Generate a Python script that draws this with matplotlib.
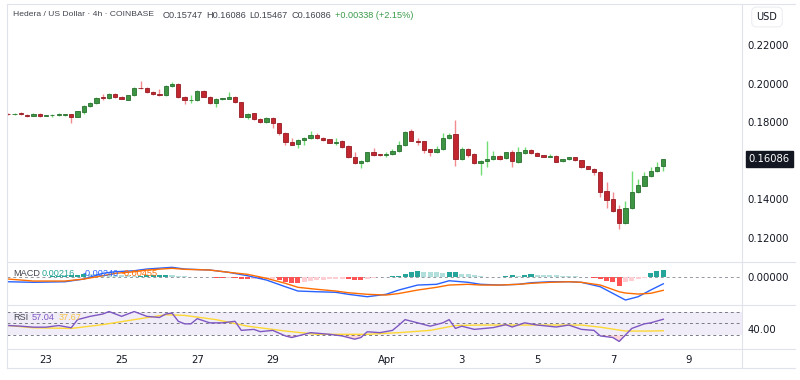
import numpy as np
import pandas as pd
import matplotlib
matplotlib.use("Agg")
from matplotlib import pyplot as plt
from matplotlib.lines import Line2D

# HBAR/USD 4h candles, 2025-03-22 00:00 onwards
opens = [.1843, .1840, .1845, .1838, .1833, .1843, .1833, .1836, .1837, .1838,
         .1840, .1828, .1855, .1882, .1898, .1928, .1925, .1947, .1932, .1917,
         .1939, .1977, .1975, .1957, .1946, .1940, .1988, .1996, .1930, .1914,
         .1917, .1963, .1932, .1901, .1920, .1922, .1932, .1903, .1827, .1846,
         .1817, .1802, .1823, .1795, .1745, .1697, .1685, .1706, .1717, .1734,
         .1719, .1711, .1694, .1703, .1677, .1620, .1588, .1597, .1644, .1633,
         .1631, .1635, .1653, .1682, .1756, .1703, .1700, .1660, .1645, .1659,
         .1717, .1739, .1608, .1661, .1635, .1588, .1597, .1608, .1625, .1613,
         .1644, .1595, .1641, .1654, .1641, .1628, .1622, .1625, .1599, .1608,
         .1618, .1603, .1572, .1560, .1544, .1444, .1400, .1350, .1280, .1357,
         .1437, .1472, .1521, .1548, .15747]
highs = [.1848, .1846, .1855, .1841, .1846, .1846, .1838, .1842, .1845, .1844,
         .1843, .1858, .1887, .1905, .1928, .1945, .1950, .1952, .1936, .1942,
         .1980, .2013, .1980, .1962, .1972, .1991, .2010, .2002, .1936, .1942,
         .1966, .1966, .1936, .1924, .1927, .1958, .1936, .1906, .1845, .1850,
         .1822, .1826, .1827, .1798, .1749, .1717, .1711, .1724, .1754, .1746,
         .1724, .1715, .1720, .1707, .1680, .1644, .1603, .1648, .1665, .1637,
         .1644, .1660, .1700, .1752, .1763, .1720, .1704, .1663, .1675, .1742,
         .1745, .1811, .1670, .1664, .1640, .1605, .1703, .1651, .1628, .1648,
         .1654, .1670, .1673, .1662, .1645, .1632, .1635, .1628, .1611, .1622,
         .1621, .1606, .1575, .1563, .1547, .1492, .1437, .1371, .1392, .1547,
         .1506, .1544, .1570, .1596, .16086]
lows = [.1836, .1837, .1838, .1829, .1830, .1825, .1830, .1828, .1834, .1834,
        .1798, .1826, .1840, .1878, .1895, .1915, .1918, .1925, .1918, .1914,
        .1936, .1972, .1953, .1940, .1936, .1936, .1982, .1925, .1894, .1899,
        .1912, .1928, .1896, .1880, .1916, .1919, .1899, .1825, .1815, .1810,
        .1796, .1798, .1768, .1735, .1682, .1680, .1665, .1682, .1712, .1714,
        .1705, .1690, .1682, .1668, .1615, .1582, .1561, .1592, .1627, .1627,
        .1618, .1630, .1648, .1676, .1700, .1682, .1643, .1625, .1641, .1655,
        .1713, .1575, .1605, .1620, .1583, .1526, .1570, .1604, .1603, .1610,
        .1570, .1590, .1637, .1637, .1623, .1618, .1620, .1592, .1596, .1605,
        .1601, .1565, .1555, .1526, .1415, .1354, .1335, .1247, .1275, .1352,
        .1432, .1468, .1518, .1544, .15467]
closes = [.1840, .1843, .1840, .1833, .1843, .1833, .1836, .1837, .1840, .1839,
          .1828, .1856, .1885, .1898, .1925, .1926, .1946, .1930, .1922, .1939,
          .1977, .1975, .1957, .1946, .1940, .1988, .1996, .1930, .1916, .1917,
          .1963, .1932, .1901, .1920, .1923, .1932, .1903, .1829, .1841, .1815,
          .1800, .1823, .1795, .1742, .1696, .1683, .1707, .1720, .1734, .1718,
          .1709, .1694, .1697, .1673, .1618, .1588, .1597, .1644, .1630, .1631,
          .1634, .1653, .1682, .1748, .1704, .1699, .1656, .1645, .1660, .1717,
          .1734, .1608, .1661, .1630, .1587, .1601, .1609, .1625, .1609, .1644,
          .1597, .1644, .1654, .1640, .1626, .1621, .1625, .1596, .1608, .1618,
          .1604, .1570, .1559, .1540, .1437, .1397, .1342, .1279, .1357, .1437,
          .1475, .1521, .1547, .1570, .16086]

# MACD (12, 26, 9), values in thousandths, read at candle positions
macd_at = [0, 4, 9, 12, 15, 17, 20, 22, 26, 28, 32, 35, 38, 41, 44, 46, 49, 52, 54,
           57, 60, 62, 65, 68, 70, 73, 75, 78, 81, 83, 86, 89, 91, 94, 97, 98, 100, 102, 104]
macd_line = [-1.72, -1.91, -1.72, -0.83, 1.06, 1.58, 1.91, 2.48, 3.04, 2.48, 2.15, 1.39,
             0.26, -1.16, -3.37, -4.79, -5.02, -5.21, -5.87, -6.67, -5.87, -4.46, -2.81,
             -2.57, -1.39, -1.91, -2.57, -2.81, -2.57, -2.05, -1.72, -1.72, -1.91, -3.37,
             -6.67, -7.76, -6.67, -4.46, -2.40]
signal_line = [-0.83, -1.49, -1.49, -0.83, 0.26, 1.06, 1.58, 2.15, 2.71, 2.38, 2.15, 1.39,
               0.73, -0.59, -2.24, -3.56, -4.22, -4.79, -5.35, -5.87, -6.11, -5.61, -4.46,
               -3.56, -2.81, -2.57, -2.81, -2.81, -2.57, -2.24, -1.91, -1.72, -1.91, -2.81,
               -5.02, -5.45, -5.78, -5.54, -4.55]
macd_hist = [-0.2, -0.2, -0.25, -0.2, -0.15, -0.1, -0.05, 0.05, 0.1, 0.2,
             0.35, 0.6, 0.8, 0.75, 0.7, 0.6, 0.5, 0.45, 0.4, 0.35,
             0.3, 0.3, 0.35, 0.4, 0.45, 0.5, 0.45, 0.25, 0.1, -0.1,
             -0.15, -0.1, -0.3, -0.45, -0.5, -0.45, -0.55, -0.7, -0.9, -0.8,
             -0.9, -0.85, -0.8, -1.2, -1.8, -2.1, -2.2, -1.9, -1.6, -1.3,
             -1.1, -0.9, -0.8, -0.7, -0.8, -1.0, -1.05, -0.8, -0.5, -0.3,
             -0.1, 0.1, 0.3, 1.0, 1.6, 1.8, 1.6, 1.5, 1.4, 1.3,
             1.5, 1.6, 1.0, 0.7, 0.4, 0.15, -0.2, -0.25, -0.1, 0.1,
             0.4, 0.2, 0.6, 0.8, 0.6, 0.5, 0.45, 0.4, 0.3, 0.25,
             0.2, -0.1, -0.2, -0.5, -0.9, -1.45, -1.95, -3.0, -1.95, -1.45,
             -0.9, -0.4, 1.1, 1.8, 2.16]

# RSI (14) and its moving average
rsi_at = [0, 2, 4, 6, 8, 10, 11, 13, 15, 16, 18, 20, 22, 24, 25, 26, 27, 28, 29, 30,
          32, 34, 36, 37, 39, 40, 42, 44, 45, 47, 48, 51, 53, 55, 56, 57, 59, 61, 62,
          63, 65, 67, 69, 70, 71, 72, 74, 77, 78, 79, 80, 82, 84, 87, 89, 91, 93, 94,
          96, 97, 99, 101, 102, 104]
rsi = [46.5, 45.4, 43.7, 43.7, 46.5, 42.7, 56.4, 61.9, 65.8, 70.0, 61.9, 70.0, 61.9,
       60.0, 65.8, 67.4, 53.6, 49.3, 49.3, 58.0, 51.0, 51.0, 53.6, 38.3, 40.0, 36.2,
       38.3, 29.0, 26.3, 31.7, 34.5, 31.7, 29.0, 23.5, 26.3, 36.0, 34.5, 38.3, 47.0,
       56.4, 51.0, 45.4, 51.0, 56.4, 41.6, 45.4, 40.0, 43.0, 45.4, 48.0, 44.0, 51.0,
       47.3, 44.0, 47.3, 40.0, 38.3, 29.0, 26.3, 19.7, 41.6, 49.3, 51.0, 57.04]
rsi_ma_at = [0, 4, 10, 15, 20, 25, 28, 33, 38, 44, 49, 54, 57, 62, 67, 71, 75, 81, 86,
             91, 94, 98, 102, 104]
rsi_ma = [46.5, 42.7, 41.6, 48.0, 56.4, 64.6, 63.5, 56.4, 45.4, 37.2, 31.7, 31.7, 31.7,
          34.5, 38.3, 46.5, 47.3, 47.3, 47.3, 47.3, 43.7, 37.2, 37.2, 37.67]

price_ticks = [0.12, 0.14, 0.18, 0.20, 0.22]
day_ticks = ['2025-03-23', '2025-03-25', '2025-03-27', '2025-03-29', '2025-04-01',
             '2025-04-03', '2025-04-05', '2025-04-07', '2025-04-09']
day_labels = ['23', '25', '27', '29', 'Apr', '3', '5', '7', '9']

start = pd.Timestamp('2025-03-22')
idx = np.arange(len(closes))
o, h, l, c = map(np.array, (opens, highs, lows, closes))
tick_pos = [(pd.Timestamp(d) - start) / pd.Timedelta('4h') for d in day_ticks]

TXT = '#131722'
GREY = '#42454f'
GRID = '#e0e3eb'
LAB = dict(fontsize=6.6, family='Liberation Sans', va='center')
W, H = 800, 380

fig = plt.figure(figsize=(8, 3.8), dpi=100)
fig.patch.set_facecolor('white')
L, R = 7 / W, 742 / W

def fy(y):
    return 1 - y / H

ax = fig.add_axes([L, fy(262), R - L, fy(4) - fy(262)])
axm = fig.add_axes([L, fy(305), R - L, fy(262) - fy(305)], sharex=ax)
axr = fig.add_axes([L, fy(349), R - L, fy(305) - fy(349)], sharex=ax)

# candles
up = c >= o
body_lo = np.minimum(o, c)
body_h = np.maximum(np.abs(c - o), 0.0003)
wick_col = np.where(up, '#6fdc74', '#f28b90')
body_col = np.where(up, '#3d9443', '#c2272f')
edge_col = np.where(up, '#2a6f30', '#951c23')
ax.vlines(idx, l, h, colors=wick_col, linewidth=1.0, zorder=2)
ax.bar(idx, body_h, bottom=body_lo, width=0.68, color=body_col,
       edgecolor=edge_col, linewidth=0.6, zorder=3)

ax.set_xlim(-0.2, 116.5)
ax.set_ylim(0.1076, 0.2412)
ax.yaxis.tick_right()
ax.set_yticks(price_ticks)
ax.set_yticklabels(['%.5f' % p for p in price_ticks])

# last price tag
ax.text(1.009, closes[-1], '%.5f' % closes[-1], transform=ax.get_yaxis_transform(),
        ha='left', va='center', color='white', fontsize=7.2,
        bbox=dict(boxstyle='square,pad=0.3', fc=TXT, ec=TXT))

# MACD pane
hist = np.array(macd_hist) / 1000
prev = np.concatenate([[hist[0]], hist[:-1]])
hcol = np.where(hist >= 0, np.where(hist >= prev, '#26a69a', '#b2dfdb'),
                np.where(hist < prev, '#ff5252', '#ffcdd2'))
axm.bar(idx, hist, width=0.8, color=hcol, zorder=2)
axm.plot(macd_at, np.array(macd_line) / 1000, color='#2962ff', lw=1.0, zorder=3)
axm.plot(macd_at, np.array(signal_line) / 1000, color='#ff6d00', lw=1.0, zorder=3)
axm.axhline(0, color='#9598a1', lw=0.7, ls=(0, (3, 3)), zorder=1)
axm.set_ylim(-0.0094, 0.0048)
axm.yaxis.tick_right()
axm.set_yticks([0])
axm.set_yticklabels(['0.00000'])

# RSI pane
axr.axhspan(30, 70, color='#7e57c2', alpha=0.1, lw=0, zorder=0)
for lvl in (70, 50, 30):
    axr.axhline(lvl, color='#787b86', lw=0.7, ls=(0, (3, 3)), zorder=1)
axr.plot(rsi_ma_at, rsi_ma, color='#fdd835', lw=1.0, zorder=2)
axr.plot(rsi_at, rsi, color='#7e57c2', lw=1.0, zorder=3)
rsi_arr = np.array(rsi)
axr.fill_between(rsi_at, rsi_arr, 30, where=rsi_arr < 30, interpolate=True,
                 color='#f23645', alpha=0.2, lw=0, zorder=2)
axr.set_ylim(7, 81)
axr.yaxis.tick_right()
axr.set_yticks([40])
axr.set_yticklabels(['40.00'])
axr.set_xticks(tick_pos)
axr.set_xticklabels(day_labels)

for a in (ax, axm, axr):
    for s in a.spines.values():
        s.set_visible(False)
    a.tick_params(axis='y', length=0, pad=4, labelsize=7.3, labelcolor=TXT)
    a.tick_params(axis='x', length=0, labelsize=7.3, labelcolor=TXT)
    a.set_facecolor('none')
ax.tick_params(axis='x', labelbottom=False)
axm.tick_params(axis='x', labelbottom=False)
axr.tick_params(axis='x', pad=4)

# frame and pane separators
def hline(y, x0=7, x1=795):
    fig.add_artist(Line2D([x0 / W, x1 / W], [fy(y), fy(y)], color=GRID, lw=0.8))

def vline(x, y0=4, y1=368):
    fig.add_artist(Line2D([x / W, x / W], [fy(y0), fy(y1)], color=GRID, lw=0.8))

for yy in (4, 262, 305, 349, 368):
    hline(yy)
vline(7)
vline(742)

# USD box
fig.text(767 / W, fy(17), 'USD', ha='center', va='center', fontsize=7, color=TXT,
         bbox=dict(boxstyle='round,pad=0.5', fc='white', ec='#eceef2', lw=0.8))

# header
fig.text(13 / W, fy(15), 'Hedera / US Dollar · 4h · COINBASE', color=GREY,
         **dict(LAB, fontsize=6.1))
for xx, s in [(163, 'O0.15747'), (206, 'H0.16086'), (249, 'L0.15467'), (291, 'C0.16086')]:
    fig.text(xx / W, fy(15), s, color=GREY, **LAB)
fig.text(335 / W, fy(15), '+0.00338 (+2.15%)', color='#3a9a4a', **LAB)

# indicator legends
fig.text(13 / W, fy(274), 'MACD', color=GREY, **LAB)
fig.text(42 / W, fy(274), '0.00216', color='#26a69a', **LAB)
fig.text(83 / W, fy(274), '-0.00240', color='#2962ff', **LAB)
fig.text(122 / W, fy(274), '-0.00455', color='#ff6d00', **LAB)
fig.text(13 / W, fy(317), 'RSI', color=GREY, **LAB)
fig.text(32 / W, fy(317), '57.04', color='#7e57c2', **LAB)
fig.text(59 / W, fy(317), '37.67', color='#f5c342', **LAB)

fig.savefig('out.png', dpi=100)
